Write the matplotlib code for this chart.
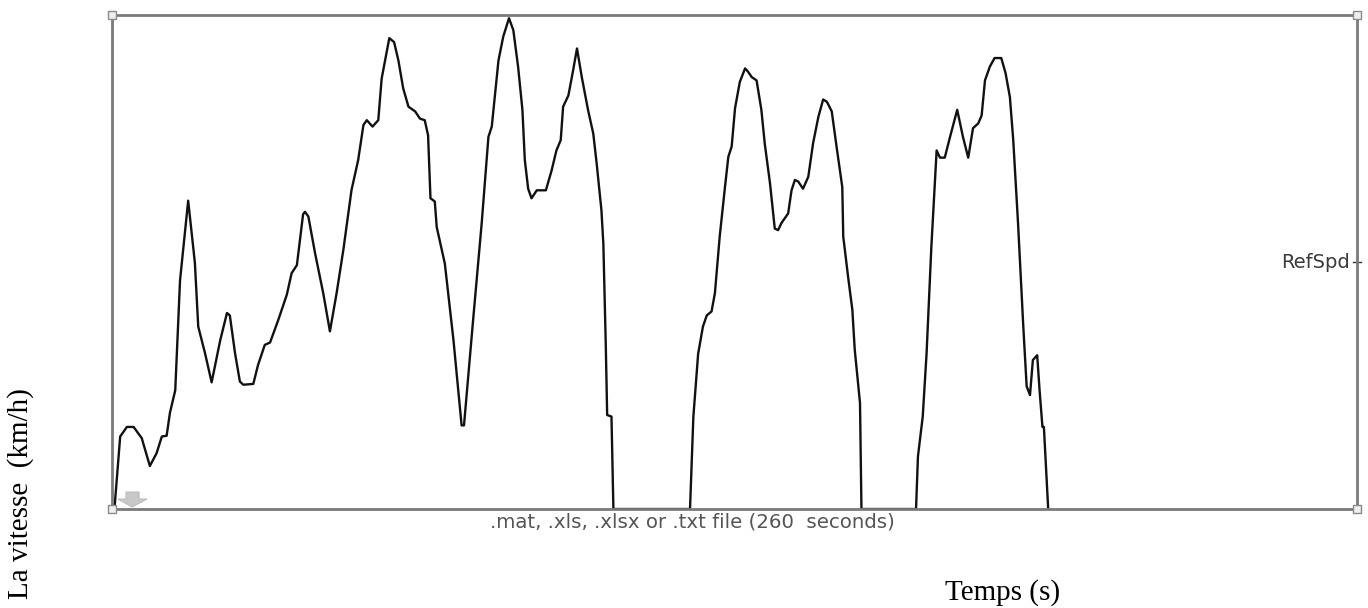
import numpy as np
import matplotlib
matplotlib.use("Agg")
import matplotlib.pyplot as plt
from matplotlib.patches import Polygon

# --- Reference speed profile ---
time_s = [0.5, 1.7, 3.1, 4.5, 6.2, 7.9, 9.3, 10.4, 11.4, 12.1, 13.2, 14.2, 15.9,
          17.3, 18.0, 19.4, 20.8, 22.6, 24.0, 24.6, 25.7, 26.7, 27.4, 29.5, 30.5,
          31.9, 33.0, 34.7, 36.5, 37.5, 38.6, 39.9, 40.3, 41.0, 42.4, 44.1, 45.5,
          46.9, 48.3, 50.0, 51.4, 52.5, 53.2, 54.4, 55.6, 56.3, 57.9, 58.9, 59.8,
          60.8, 61.9, 63.3, 64.3, 65.3, 66.0, 66.5, 67.4, 67.8, 69.5, 71.3, 73.0,
          73.5, 75.4, 77.2, 78.6, 79.3, 80.7, 81.7, 82.9, 83.8, 84.8, 85.7, 86.2,
          86.9, 87.6, 88.7, 90.6, 91.8, 92.8, 93.7, 94.2, 95.3, 96.3, 97.1, 98.1,
          99.4, 100.5, 101.2, 102.2, 102.6, 103.1, 103.4, 104.3, 104.7, 120.7,
          121.4, 122.4, 123.4, 124.2, 125.2, 125.9, 126.9, 128.0, 128.7, 129.4,
          130.1, 131.1, 132.2, 132.8, 133.6, 134.6, 135.6, 136.3, 137.4, 138.4,
          139.1, 139.8, 141.2, 141.9, 142.6, 143.3, 144.3, 145.4, 146.4, 147.5,
          148.5, 149.3, 150.3, 151.3, 152.5, 152.7, 153.7, 154.6, 155.1, 156.2,
          156.5, 167.9, 168.3, 169.3, 170.1, 171.1, 172.2, 172.9, 173.9, 175.0,
          176.5, 177.7, 178.8, 179.8, 180.9, 181.6, 182.3, 183.3, 184.3, 185.7,
          186.6, 187.5, 188.2, 189.2, 190.3, 191.0, 191.7, 192.3, 193.2, 193.7,
          194.3, 194.6, 195.5]
speed_kmh = [0.0, 9.1, 10.3, 10.3, 8.9, 5.4, 7.0, 9.1, 9.2, 12.1, 14.9, 28.7, 38.7,
             30.9, 22.9, 19.6, 15.9, 21.2, 24.6, 24.3, 19.5, 16.0, 15.6, 15.7, 18.1,
             20.6, 20.9, 23.7, 26.9, 29.6, 30.6, 37.0, 37.3, 36.7, 32.1, 27.1, 22.3,
             27.1, 32.5, 40.0, 43.8, 48.2, 48.8, 48.0, 48.8, 54.0, 59.1, 58.6, 56.3,
             52.8, 50.5, 49.9, 49.0, 48.8, 46.9, 39.0, 38.6, 35.4, 30.8, 21.2, 10.5,
             10.5, 23.7, 35.9, 46.7, 48.0, 56.3, 59.3, 61.6, 60.1, 55.5, 50.1, 43.8,
             40.2, 39.0, 40.0, 40.0, 42.5, 45.0, 46.3, 50.5, 51.9, 55.1, 57.8, 54.2,
             50.1, 47.1, 43.4, 37.5, 33.3, 20.8, 11.8, 11.6, 0.0, 0.0,
             11.6, 19.5, 22.9, 24.3, 24.8, 27.1, 34.2, 40.4, 44.2, 45.5,
             50.3, 53.6, 55.3, 54.9, 54.2, 53.8, 50.1, 45.9, 40.9, 35.2,
             35.0, 35.9, 37.1, 40.0, 41.3, 41.1, 40.2, 41.7, 45.9, 49.2,
             51.4, 51.1, 49.9, 45.5, 40.4, 34.2, 29.2, 25.0, 20.0, 13.3,
             0.0, 0.0, 6.6, 11.6, 19.5, 32.9, 45.0, 44.1, 44.1, 46.7,
             50.1, 46.7, 44.1, 47.8, 48.4, 49.4, 53.8, 55.5, 56.6, 56.6,
             54.7, 51.7, 46.3, 35.9, 22.9, 15.4, 14.3, 18.7, 19.3, 14.9,
             10.3, 10.3, 0.0]

x_max = 260
y_max = 62
frame_color = '#7a7a7a'

fig = plt.figure(figsize=(13.68, 6.08), dpi=100)
ax = fig.add_axes([0.0819, 0.1628, 0.9101, 0.8125])

ax.plot(time_s, speed_kmh, color='#111111', lw=1.7, solid_joinstyle='round')
ax.set_xlim(0, x_max)
ax.set_ylim(0, y_max)
ax.set_xticks([])
ax.set_yticks([])
for sp in ax.spines.values():
    sp.set_color(frame_color)
    sp.set_linewidth(2.0)

# corner handles
for cx, cy in [(0, 0), (0, 1), (1, 0), (1, 1)]:
    ax.plot(cx, cy, marker='s', ms=6, mfc='#eeeeee', mec='#8a8a8a', mew=1,
            transform=ax.transAxes, clip_on=False, zorder=5)

# right signal label with its tick
ax.text(0.9945, 0.5, 'RefSpd', transform=ax.transAxes, ha='right', va='center',
        fontsize=14, family='DejaVu Sans', color='#3a3a3a')
ax.plot([0.9965, 1.003], [0.5, 0.5], color='#333333', lw=1,
        transform=ax.transAxes, clip_on=False)

# little grey block arrow at bottom left
arrow = Polygon([(0.0112, 0.0344), (0.0217, 0.0344), (0.0217, 0.0202), (0.0281, 0.0202),
                 (0.0161, 0.004), (0.0048, 0.0202), (0.0112, 0.0202)],
                closed=True, transform=ax.transAxes, fc='#c8c8c8', ec='#bdbdbd', lw=0.8)
ax.add_patch(arrow)

fig.text(0.506, 0.142, '.mat, .xls, .xlsx or .txt file (260  seconds)', ha='center',
         va='center', fontsize=14.2, family='DejaVu Sans', color='#555555')

fig.text(0.015, 0.1875, 'La vitesse  (km/h)', rotation=90, ha='center', va='center',
         fontsize=21, family='Liberation Serif', color='black')
fig.text(0.733, 0.026, 'Temps (s)', ha='center', va='center',
         fontsize=21, family='Liberation Serif', color='black')

fig.savefig('out.png', dpi=100, facecolor='white')
